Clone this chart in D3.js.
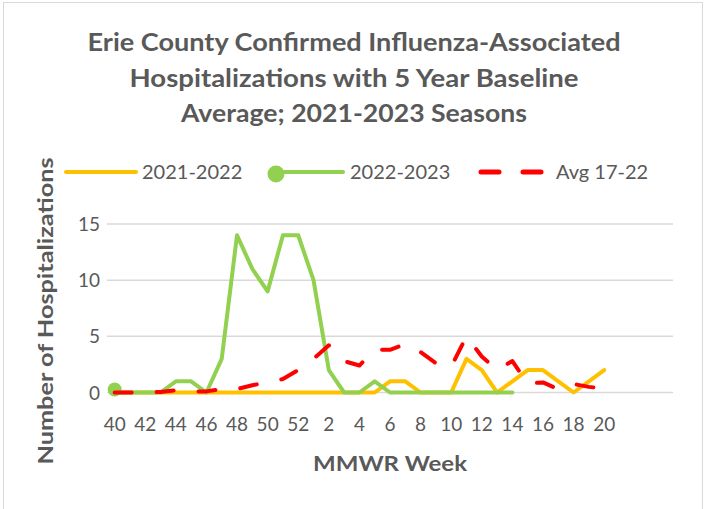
<!DOCTYPE html>
<html lang="en">
<head>
<meta charset="utf-8">
<title>Erie County Influenza Hospitalizations</title>
<script src="https://cdn.jsdelivr.net/npm/d3@7"></script>
<style>
  html, body { margin: 0; padding: 0; background: #fff; }
  svg { display: block; font-family: Lato, "Noto Sans", sans-serif; }
</style>
</head>
<body>
<div id="chart"></div>
<script>
// MMWR weeks 40..52, 1..24 (last four categories have blank labels)
var weeks = ["40","41","42","43","44","45","46","47","48","49","50","51","52",
  "1","2","3","4","5","6","7","8","9","10","11","12","13","14","15","16","17","18","19","20",
  "","","",""];
var season2122 = [0,0,0,0,0,0,0,0,0,0,0,0,0,
  0,0,0,0,0,1,1,0,0,0,3,2,0,1,2,2,1,0,1,2];
var season2223 = [0,0,0,0,1,1,0,3,14,11,9,14,14,
  10,2,0,0,1,0,0,0,0,0,0,0,0,0];
var avg1722 = [0,0,0,0.05,0.2,0.1,0.1,0.3,0.3,0.65,0.9,1.2,2.0,
  3.0,4.2,2.8,2.4,3.8,3.8,4.3,3.6,2.6,2.3,5.0,3.2,2.0,2.8,0.8,0.9,0.3,0.75,0.5,0.35];
var yTicks = [0, 5, 10, 15];
var titleLines = ["Erie County Confirmed Influenza-Associated",
  "Hospitalizations with 5 Year Baseline",
  "Average; 2021-2023 Seasons"];
var seriesNames = ["2021-2022", "2022-2023", "Avg 17-22"];

var W = 704, H = 509;
var textColor = "#595959", gridColor = "#d9d9d9";
var yellow = "#ffc000", green = "#92d050", red = "#ff0000";

var svg = d3.select("#chart").append("svg")
  .attr("width", W).attr("height", H);

// chart border
svg.append("rect")
  .attr("x", 3.5).attr("y", 2.5)
  .attr("width", 699).attr("height", 520)
  .attr("fill", "#fff").attr("stroke", gridColor).attr("stroke-width", 1);

// title
var titleW = [533, 449, 346];
svg.append("g").selectAll("text")
  .data(titleLines).enter().append("text")
  .attr("x", 354).attr("y", function(d, i) { return 51 + i * 35.5; })
  .attr("text-anchor", "middle")
  .attr("font-size", 24).attr("font-weight", "bold")
  .attr("fill", textColor)
  .attr("textLength", function(d, i) { return titleW[i]; })
  .attr("lengthAdjust", "spacingAndGlyphs")
  .text(function(d) { return d; });

var xScale = d3.scaleBand()
  .domain(d3.range(weeks.length))
  .range([107, 673]);
var xPos = function(i) { return xScale(i) + xScale.bandwidth() / 2; };
var yScale = d3.scaleLinear().domain([0, 15]).range([392.5, 224]);

// gridlines
svg.append("g").selectAll("line")
  .data(yTicks).enter().append("line")
  .attr("x1", 107).attr("x2", 673)
  .attr("y1", function(d) { return yScale(d); })
  .attr("y2", function(d) { return yScale(d); })
  .attr("stroke", gridColor).attr("stroke-width", 1.5);

// y axis labels
var yAxis = d3.axisLeft(yScale).tickValues(yTicks).tickSize(0).tickPadding(0);
var gy = svg.append("g").attr("transform", "translate(100,0)").call(yAxis);
gy.select(".domain").remove();
gy.selectAll("text").attr("font-size", 19).attr("font-family", "Lato")
  .attr("fill", textColor).attr("dy", "0.35em");

// x axis labels (every other category)
var xAxis = d3.axisBottom(xScale)
  .tickValues(d3.range(0, weeks.length, 2))
  .tickFormat(function(i) { return weeks[i]; })
  .tickSize(0).tickPadding(0);
var gx = svg.append("g").attr("transform", "translate(0,417)").call(xAxis);
gx.select(".domain").remove();
gx.selectAll("text").attr("font-size", 19).attr("font-family", "Lato")
  .attr("fill", textColor).attr("dy", "0.71em");

// axis titles
svg.append("text")
  .attr("transform", "translate(53,311) rotate(-90)")
  .attr("text-anchor", "middle")
  .attr("font-size", 21).attr("font-weight", "bold").attr("fill", textColor)
  .attr("textLength", 307).attr("lengthAdjust", "spacingAndGlyphs")
  .text("Number of Hospitalizations");
svg.append("text")
  .attr("x", 390).attr("y", 471)
  .attr("text-anchor", "middle")
  .attr("font-size", 21).attr("font-weight", "bold").attr("fill", textColor)
  .attr("textLength", 154).attr("lengthAdjust", "spacingAndGlyphs")
  .text("MMWR Week");

var line = d3.line()
  .x(function(d, i) { return xPos(i); })
  .y(function(d) { return yScale(d); });

svg.append("path").datum(season2122)
  .attr("d", line).attr("fill", "none")
  .attr("stroke", yellow).attr("stroke-width", 4)
  .attr("stroke-linejoin", "round").attr("stroke-linecap", "round");

svg.append("path").datum(season2223)
  .attr("d", line).attr("fill", "none")
  .attr("stroke", green).attr("stroke-width", 4)
  .attr("stroke-linejoin", "round").attr("stroke-linecap", "round");
svg.append("circle")
  .attr("cx", xPos(0)).attr("cy", yScale(season2223[0]) - 3)
  .attr("r", 7).attr("fill", green);

svg.append("path").datum(avg1722)
  .attr("d", line).attr("fill", "none")
  .attr("stroke", red).attr("stroke-width", 4)
  .attr("stroke-dasharray", "17 25")
  .attr("stroke-linejoin", "round").attr("stroke-linecap", "round");

// legend
var lg = svg.append("g");
lg.append("line").attr("x1", 66).attr("x2", 136).attr("y1", 172).attr("y2", 172)
  .attr("stroke", yellow).attr("stroke-width", 4).attr("stroke-linecap", "round");
lg.append("line").attr("x1", 276).attr("x2", 343).attr("y1", 172).attr("y2", 172)
  .attr("stroke", green).attr("stroke-width", 4).attr("stroke-linecap", "round");
lg.append("circle").attr("cx", 276).attr("cy", 174).attr("r", 8.5).attr("fill", green);
lg.append("line").attr("x1", 481).attr("x2", 543).attr("y1", 172).attr("y2", 172)
  .attr("stroke", red).attr("stroke-width", 5).attr("stroke-linecap", "round")
  .attr("stroke-dasharray", "18 24");
var legendX = [142, 350, 556];
lg.selectAll("text").data(seriesNames).enter().append("text")
  .attr("x", function(d, i) { return legendX[i]; })
  .attr("y", 179)
  .attr("font-size", 20).attr("fill", textColor)
  .text(function(d) { return d; });
</script>
</body>
</html>
